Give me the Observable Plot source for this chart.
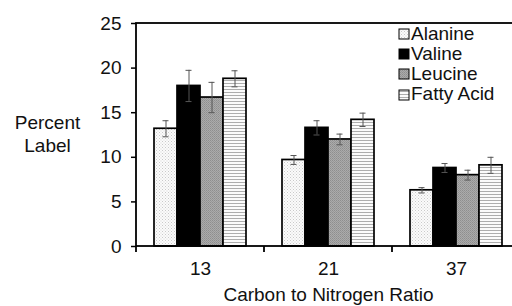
<!DOCTYPE html>
<html>
<head>
<meta charset="utf-8">
<script src="https://cdn.jsdelivr.net/npm/d3@7"></script>
<script src="https://cdn.jsdelivr.net/npm/@observablehq/plot@0.6"></script>
<style>
  body { margin: 0; background: #fff; }
  #wrap { position: relative; width: 512px; height: 306px; overflow: hidden; font-family: "Liberation Sans", Arial, sans-serif; color: #111; }
  #ylab { position: absolute; left: 0; width: 95px; top: 111px; text-align: center; font-size: 19px; line-height: 23px; }
  #legend { position: absolute; left: 398px; top: 23.5px; font-size: 19px; line-height: 20.3px; }
  #legend .row { display: flex; align-items: center; white-space: nowrap; height: 20.3px; }
  #legend svg { margin-right: 1px; }
</style>
</head>
<body>
<svg width="0" height="0" style="position:absolute">
  <defs>
    <pattern id="pAla" width="3" height="3" patternUnits="userSpaceOnUse">
      <rect width="3" height="3" fill="#fbfbfb"/>
      <rect x="0" y="0" width="1" height="1" fill="#cacaca"/>
      <rect x="1.5" y="1.5" width="1" height="1" fill="#d6d6d6"/>
    </pattern>
    <pattern id="pVal" width="4" height="4" patternUnits="userSpaceOnUse">
      <rect width="4" height="4" fill="#000"/>
    </pattern>
    <pattern id="pLeu" width="2" height="2" patternUnits="userSpaceOnUse">
      <rect width="2" height="2" fill="#ababab"/>
      <rect x="0" y="0" width="1" height="1" fill="#8e8e8e"/>
      <rect x="1" y="1" width="1" height="1" fill="#989898"/>
    </pattern>
    <pattern id="pFat" width="3" height="3" patternUnits="userSpaceOnUse">
      <rect width="3" height="3" fill="#fbfbfb"/>
      <rect x="0" y="2" width="3" height="1" fill="#adadad"/>
    </pattern>
  </defs>
</svg>
<div id="wrap">
  <div id="chart"></div>
  <div id="ylab">Percent<br>Label</div>
  <div id="legend"></div>
</div>
<script>
// ---- data ----
const groups = ["13", "21", "37"];
const series = ["Alanine", "Valine", "Leucine", "Fatty Acid"];
const alanine    = [13.2, 9.7, 6.3];
const valine     = [18.0, 13.3, 8.8];
const leucine    = [16.7, 12.0, 8.0];
const fattyAcid  = [18.8, 14.2, 9.1];
const alanineErr = [0.9, 0.5, 0.3];
const valineErr  = [1.75, 0.8, 0.5];
const leucineErr = [1.7, 0.6, 0.55];
const fattyErr   = [0.9, 0.75, 0.9];
const yTicks = [0, 5, 10, 15, 20, 25];
const xTitle = "Carbon to Nitrogen Ratio";

const fills = ["url(#pAla)", "url(#pVal)", "url(#pLeu)", "url(#pFat)"];

const vals = [alanine, valine, leucine, fattyAcid];
const errs = [alanineErr, valineErr, leucineErr, fattyErr];
const table = [];
groups.forEach((g, i) => series.forEach((s, j) => {
  table.push({group: g, series: s, value: vals[j][i], err: errs[j][i]});
}));

const chart = Plot.plot({
  width: 512,
  height: 306,
  marginLeft: 136,
  marginRight: -8,
  marginTop: 23,
  marginBottom: 60,
  style: {fontFamily: "Liberation Sans, Arial, sans-serif", fontSize: "19px", color: "#111"},
  fx: {domain: groups, padding: 0, axis: null},
  x: {domain: series, paddingInner: 0, paddingOuter: 0.72, axis: null},
  y: {domain: [0, 25], axis: null},
  color: {domain: series, range: fills},
  marks: [
    Plot.barY(table, {fx: "group", x: "series", y: "value", fill: "series", stroke: "#000", strokeWidth: 1.7}),
    Plot.ruleX(table, {fx: "group", x: "series", y1: d => d.value - d.err, y2: d => d.value + d.err, stroke: "#555", strokeWidth: 1}),
    Plot.tickY(table, {fx: "group", x: "series", y: d => d.value + d.err, stroke: "#555", strokeWidth: 1, insetLeft: 8.5, insetRight: 8.5}),
    Plot.tickY(table, {fx: "group", x: "series", y: d => d.value - d.err, stroke: "#555", strokeWidth: 1, insetLeft: 8.5, insetRight: 8.5}),
    Plot.axisY({ticks: yTicks, tickSize: 5, tickPadding: 10, fontSize: 19, label: null, stroke: "#000", strokeWidth: 1.5, fill: "#111"}),
    Plot.axisFx({anchor: "bottom", tickSize: 0, tickPadding: 15, fontSize: 19, label: xTitle, labelAnchor: "center", labelOffset: 54, labelArrow: "none", fill: "#111"})
  ]
});
document.getElementById("chart").appendChild(chart);

// frame and between-group ticks, from the library's scales
const fxs = chart.scale("fx");
const ys = chart.scale("y");
const svg = d3.select(chart);
const x0 = fxs.range[0], x1 = fxs.range[1];
const yTop = ys.apply(25), yBot = ys.apply(0);
const g = svg.append("g").attr("stroke", "#000").attr("fill", "none");
g.append("rect").attr("x", x0).attr("y", yTop).attr("width", x1 - x0).attr("height", yBot - yTop).attr("stroke-width", 1.8);
groups.forEach(v => {
  const xv = fxs.apply(v);
  g.append("line").attr("x1", xv).attr("x2", xv).attr("y1", yBot).attr("y2", yBot + 6).attr("stroke-width", 1.8);
});

// legend
const leg = d3.select("#legend");
series.forEach((s, j) => {
  const row = leg.append("div").attr("class", "row");
  const sw = row.append("svg").attr("width", 12).attr("height", 12);
  sw.append("rect").attr("x", 1).attr("y", 1).attr("width", 10).attr("height", 10)
    .attr("fill", fills[j]).attr("stroke", "#000").attr("stroke-width", 1);
  row.append("span").text(s);
});
</script>
</body>
</html>
